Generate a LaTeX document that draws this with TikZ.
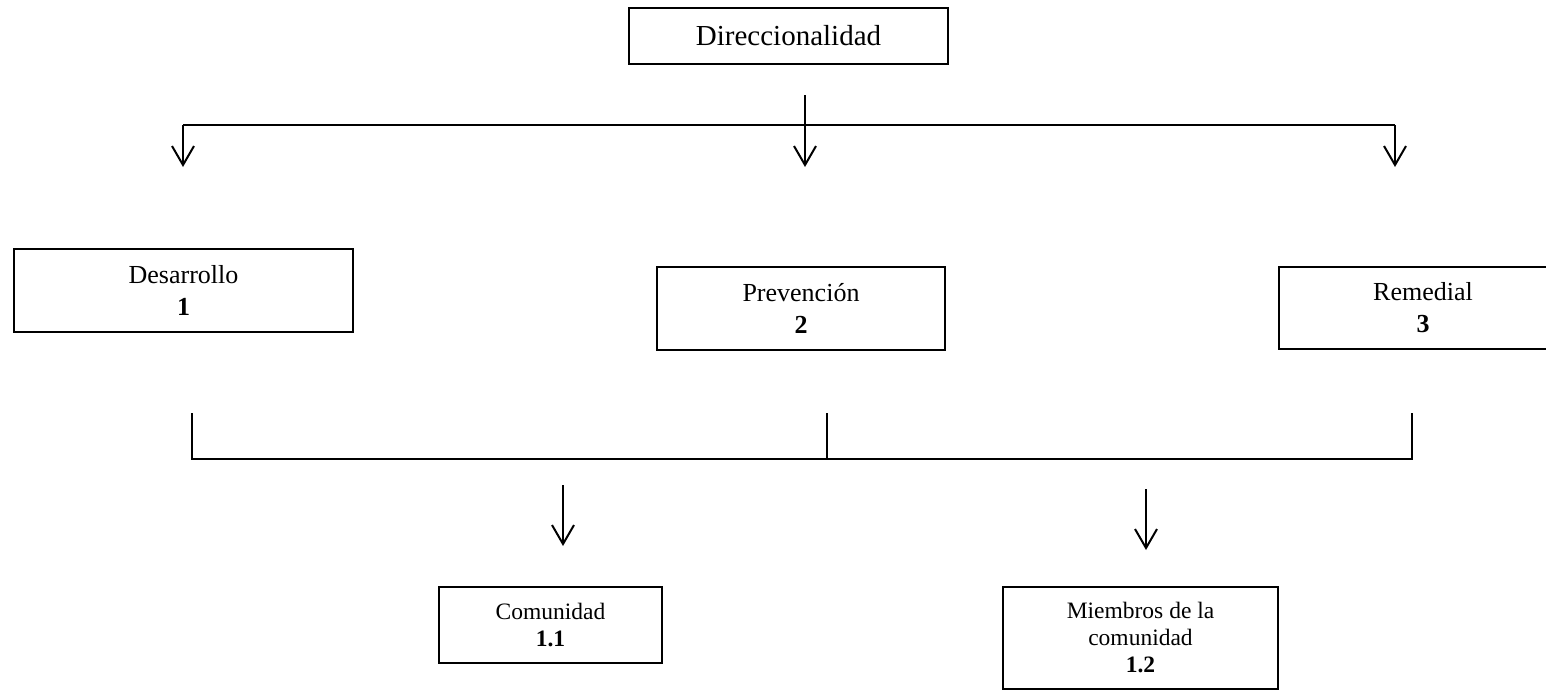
\documentclass[tikz,border=0pt]{standalone}
\usepackage{fontspec}
\setmainfont{Liberation Serif}
\usetikzlibrary{arrows.meta}
\begin{document}
\begin{tikzpicture}[x=1pt,y=-1pt,
  box/.style={draw,line width=1.8pt,inner sep=0pt,align=center},
  big/.style={font=\fontsize{29}{34}\selectfont},
  mid/.style={font=\fontsize{26}{32}\selectfont},
  small/.style={font=\fontsize{23.5}{27}\selectfont},
  ln/.style={line width=1.8pt},
  arr/.style={line width=2pt,-{Straight Barb[length=19pt,width=22pt]}}]
\useasboundingbox (0,0) rectangle (1546,691);
% boxes
\node[box,big,minimum width=319pt,minimum height=56pt] (dir) at (788.5,36) {Direccionalidad};
\node[box,mid,minimum width=339pt,minimum height=83pt] (des) at (183.5,290.5) {Desarrollo\\\textbf{1}};
\node[box,mid,minimum width=288pt,minimum height=83pt] (pre) at (801,308.5) {Prevención\\\textbf{2}};
\node[box,mid,minimum width=288pt,minimum height=82pt] (rem) at (1423,308) {Remedial\\\textbf{3}};
\node[box,small,minimum width=223pt,minimum height=76pt] (com) at (550.5,625) {Comunidad\\\textbf{1.1}};
\node[box,small,minimum width=275pt,minimum height=102pt] (mie) at (1140.5,638) {Miembros de la\\comunidad\\\textbf{1.2}};
% top connectors
\coordinate (t0) at (805,95);
\coordinate (t1) at (805,167);
\coordinate (hl) at (183,125);
\coordinate (hr) at (1395,125);
\coordinate (l1) at (183,167);
\coordinate (r1) at (1395,167);
\draw[arr] (t0) -- (t1);
\draw[ln] (hl) -- (hr);
\draw[arr] (hl) -- (l1);
\draw[arr] (hr) -- (r1);
% lower bracket
\coordinate (b1) at (192,413);
\coordinate (b2) at (827,413);
\coordinate (b3) at (1412,413);
\coordinate (c1) at (192,459);
\coordinate (c2) at (827,459);
\coordinate (c3) at (1412,459);
\draw[ln] (b1) -- (c1) -- (c3) -- (b3);
\draw[ln] (b2) -- (c2);
% lower arrows
\coordinate (d0) at (563,485);
\coordinate (d1) at (563,546);
\coordinate (e0) at (1146,489);
\coordinate (e1) at (1146,550);
\draw[arr] (d0) -- (d1);
\draw[arr] (e0) -- (e1);
\end{tikzpicture}
\end{document}
